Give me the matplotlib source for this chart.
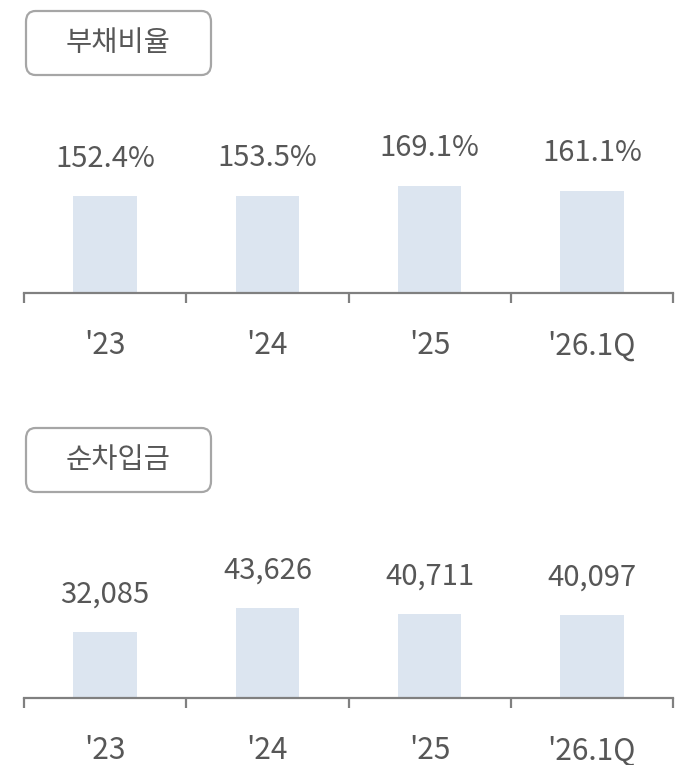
import matplotlib.pyplot as plt
from matplotlib.patches import FancyBboxPatch

plt.rcParams['font.family'] = ['Noto Sans CJK KR', 'DejaVu Sans']

categories = ["'23", "'24", "'25", "'26.1Q"]
debt_ratio = [152.4, 153.5, 169.1, 161.1]
debt_labels = ['152.4%', '153.5%', '169.1%', '161.1%']
net_debt = [32085, 43626, 40711, 40097]
net_debt_labels = ['32,085', '43,626', '40,711', '40,097']
titles = ['부채비율', '순차입금']

W, H = 678, 765
DPI = 100
TEXT = '#575757'
AXIS = '#808080'
BAR = '#dce5f0'

fig = plt.figure(figsize=(W / DPI, H / DPI), dpi=DPI)


def px_axes(left, top, right, bottom):
    # pixel box (from top-left) -> figure fraction axes
    return fig.add_axes([left / W, 1 - bottom / H, (right - left) / W, (bottom - top) / H])


def draw_panel(values, labels, title, axis_y, ymax, box_top):
    ax = px_axes(24, axis_y - 200, 673, axis_y)
    x = [i + 0.5 for i in range(len(values))]
    ax.bar(x, values, width=0.39, color=BAR, zorder=2)
    ax.set_xlim(0, 4)
    ax.set_ylim(0, ymax)
    for s in ['top', 'right', 'left']:
        ax.spines[s].set_visible(False)
    ax.spines['bottom'].set_color(AXIS)
    ax.spines['bottom'].set_linewidth(1.6)
    ax.set_yticks([])
    ax.set_xticks(range(5))
    ax.set_xticklabels([])
    ax.tick_params(axis='x', length=7.5, width=1.6, color=AXIS, direction='out')
    for xi, v, lab in zip(x, values, labels):
        ax.annotate(lab, (xi, v), xytext=(0, 27), textcoords='offset points',
                    ha='center', va='center', fontsize=21, color=TEXT)
    for xi, cat in zip(x, categories):
        ax.annotate(cat, (xi, 0), xycoords=('data', 'axes fraction'),
                    xytext=(0, -38), textcoords='offset points',
                    ha='center', va='center', fontsize=21.5, color=TEXT)

    # label box
    bx0, bx1 = 26, 211
    by0, by1 = box_top, box_top + 64
    box = FancyBboxPatch((bx0 / W, 1 - by1 / H), (bx1 - bx0) / W, (by1 - by0) / H,
                         boxstyle='round,pad=0,rounding_size=0.014',
                         transform=fig.transFigure, facecolor='white',
                         edgecolor='#a6a6a6', linewidth=1.6)
    fig.patches.append(box)
    fig.text((bx0 + bx1) / 2 / W, 1 - (by0 + by1) / 2 / H, title,
             ha='center', va='center', fontsize=20.5, color=TEXT)


draw_panel(debt_ratio, debt_labels, titles[0], 293, 200 / 0.635, 11)
draw_panel(net_debt, net_debt_labels, titles[1], 698, 200 / 0.00206, 428)

fig.savefig('out.png', dpi=DPI)
